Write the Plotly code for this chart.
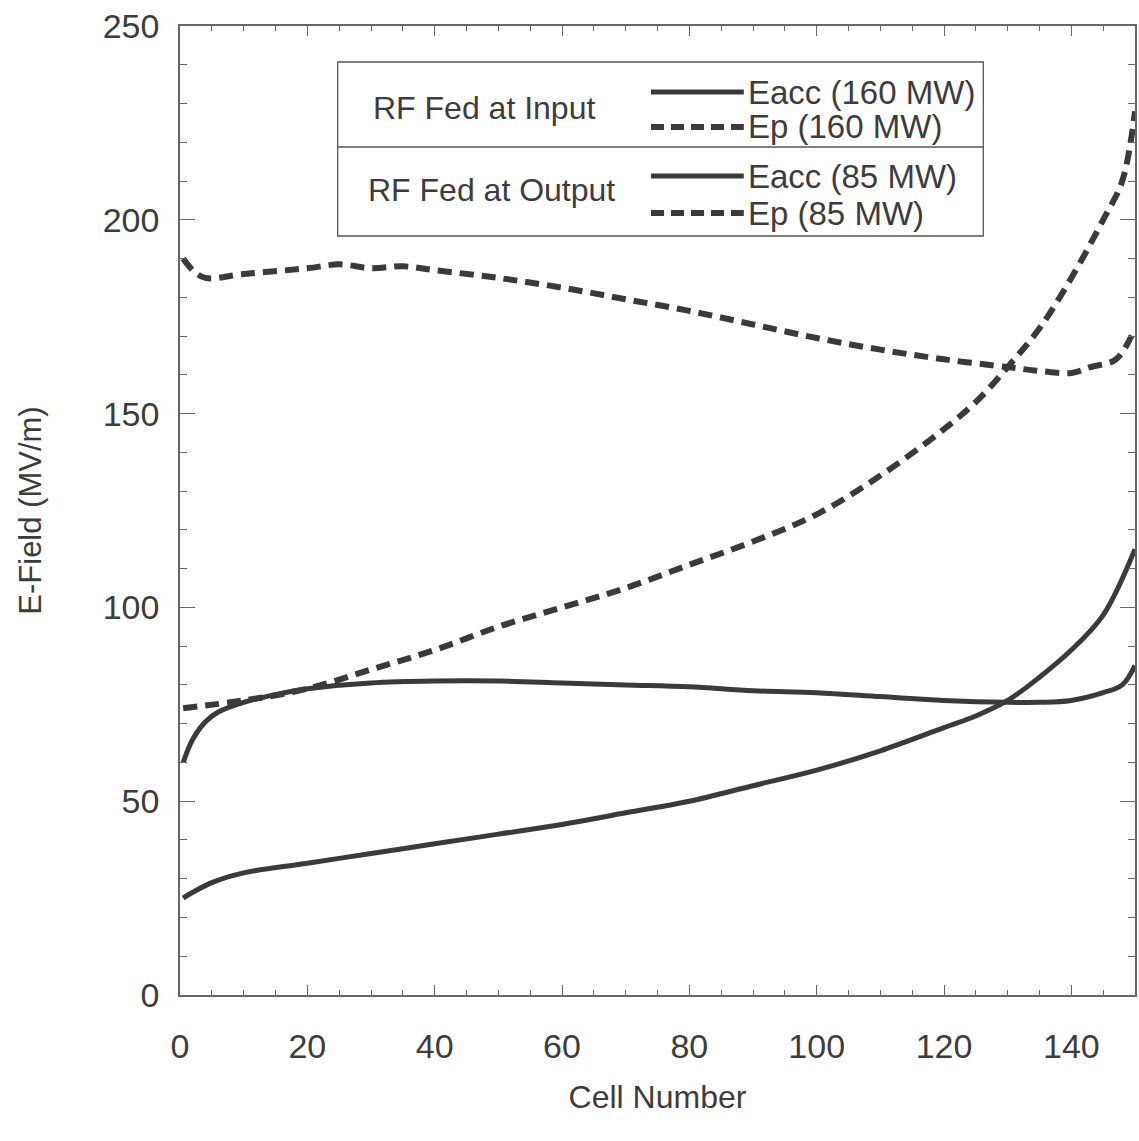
import plotly.graph_objects as go

# Cell positions along the structure
cells_eacc160 = [0.5, 2, 4, 6, 10, 15, 20, 30, 40, 50, 60, 70, 80, 90, 100, 110, 120, 130, 135, 140, 145, 148, 150]
eacc_160 = [60, 66, 70.5, 73, 75.5, 77.5, 79, 80.5, 81, 81, 80.5, 80, 79.5, 78.5, 78, 77, 76, 75.5, 75.5, 76, 78, 80, 85]

cells_ep160 = [0.5, 2, 4, 10, 20, 25, 30, 35, 40, 50, 60, 70, 80, 90, 100, 110, 120, 130, 135, 140, 143, 147, 150]
ep_160 = [190, 187, 185, 186, 187.5, 188.5, 187.5, 188, 187, 185, 182.5, 179.5, 176.5, 173, 169.5, 166.5, 164, 162, 161, 160.5, 162, 164, 172]

cells_eacc85 = [0.5, 2, 5, 10, 20, 30, 40, 50, 60, 70, 80, 90, 100, 110, 120, 125, 130, 135, 140, 145, 150]
eacc_85 = [25, 26.5, 29, 31.5, 34, 36.5, 39, 41.5, 44, 47, 50, 54, 58, 63, 69, 72, 76, 82, 89, 98, 115]

cells_ep85 = [0.5, 10, 20, 30, 40, 50, 60, 70, 80, 90, 100, 110, 120, 125, 130, 135, 140, 145, 148, 150]
ep_85 = [74, 76, 79, 84, 89, 95, 100, 105, 111, 117, 124, 134, 146, 153, 162, 172, 185, 200, 210, 228]

x_ticks = [0, 20, 40, 60, 80, 100, 120, 140]
y_ticks = [0, 50, 100, 150, 200, 250]

INK = "#3a3a3a"
AXIS = "#666666"
TEXT = "#3c3c3c"
FONT = "Liberation Sans, Arial, sans-serif"
SOLID = dict(color=INK, width=5)
DASHED = dict(color=INK, width=6, dash="14px,8px")

fig = go.Figure()
fig.add_trace(go.Scatter(x=cells_eacc160, y=eacc_160, mode="lines", line=dict(SOLID, shape="spline"),
                         name="Eacc (160 MW)"))
fig.add_trace(go.Scatter(x=cells_ep160, y=ep_160, mode="lines", line=dict(DASHED, shape="spline"),
                         name="Ep (160 MW)"))
fig.add_trace(go.Scatter(x=cells_eacc85, y=eacc_85, mode="lines", line=dict(SOLID, shape="spline"),
                         name="Eacc (85 MW)"))
fig.add_trace(go.Scatter(x=cells_ep85, y=ep_85, mode="lines", line=dict(DASHED, shape="spline"),
                         name="Ep (85 MW)"))

axis_common = dict(
    showgrid=False, zeroline=False, showline=True, linecolor=AXIS, linewidth=1.5,
    mirror="allticks", ticks="inside", tickcolor=AXIS, tickwidth=1.2,
    tickfont=dict(family=FONT, size=34, color=TEXT),
)

fig.update_xaxes(
    axis_common, range=[0, 150], tickvals=x_ticks, ticklen=10,
    minor=dict(dtick=5, ticks="inside", ticklen=5, tickcolor=AXIS, tickwidth=1),
    ticklabelstandoff=20,
    title=dict(text="Cell Number", font=dict(family=FONT, size=32, color=TEXT), standoff=22),
)
fig.update_yaxes(
    axis_common, range=[0, 250], tickvals=y_ticks, ticklen=15,
    minor=dict(dtick=10, ticks="inside", ticklen=7, tickcolor=AXIS, tickwidth=1),
    ticklabelstandoff=12,
    title=dict(text="E-Field (MV/m)", font=dict(family=FONT, size=31, color=TEXT), standoff=52),
)

# Legend panel drawn as a boxed table
def px_x(px):
    return (px - 180) / 957.0

def px_y(py):
    return (995 - py) / 969.0

shapes = [
    dict(type="rect", xref="paper", yref="paper", x0=px_x(338), x1=px_x(985), y0=px_y(236), y1=px_y(62),
         line=dict(color="#555555", width=1.3), fillcolor="white"),
    dict(type="line", xref="paper", yref="paper", x0=px_x(338), x1=px_x(985), y0=px_y(147), y1=px_y(147),
         line=dict(color="#555555", width=1.3)),
]
rows = [(92, "Eacc (160 MW)", SOLID), (127, "Ep (160 MW)", DASHED),
        (176, "Eacc (85 MW)", SOLID), (213, "Ep (85 MW)", DASHED)]
annotations = []
for py, label, style in rows:
    ln = dict(color=INK, width=style["width"])
    if "dash" in style:
        ln["dash"] = "13px,7px"
    shapes.append(dict(type="line", xref="paper", yref="paper", x0=px_x(652), x1=px_x(745),
                       y0=px_y(py), y1=px_y(py), line=ln))
    annotations.append(dict(xref="paper", yref="paper", x=px_x(747), y=px_y(py), text=label,
                            showarrow=False, xanchor="left", yanchor="middle",
                            font=dict(family=FONT, size=33, color=TEXT)))
annotations.append(dict(xref="paper", yref="paper", x=px_x(371), y=px_y(108), text="RF Fed at Input",
                        showarrow=False, xanchor="left", yanchor="middle",
                        font=dict(family=FONT, size=32, color=TEXT)))
annotations.append(dict(xref="paper", yref="paper", x=px_x(366), y=px_y(190), text="RF Fed at Output",
                        showarrow=False, xanchor="left", yanchor="middle",
                        font=dict(family=FONT, size=32, color=TEXT)))

fig.update_layout(
    width=1139, height=1141,
    margin=dict(l=180, r=2, t=26, b=146),
    paper_bgcolor="white", plot_bgcolor="white",
    showlegend=False,
    shapes=shapes, annotations=annotations,
)

fig.write_html("out.html")
